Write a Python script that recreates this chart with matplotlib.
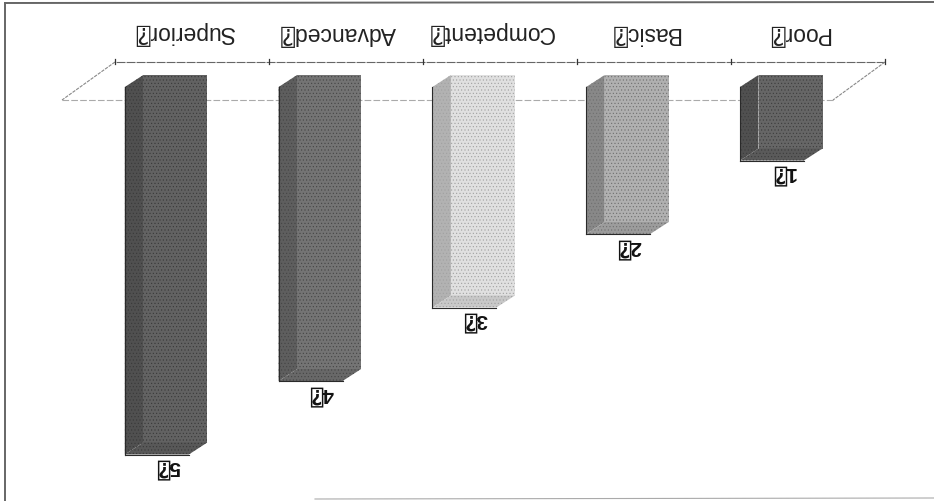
import matplotlib
matplotlib.use('Agg')
import matplotlib.pyplot as plt
from matplotlib.lines import Line2D

categories = ['Poor', 'Basic', 'Competent', 'Advanced', 'Superior']
values = [1, 2, 3, 4, 5]
face_colors = ['#666666', '#b0b0b0', '#e0e0e0', '#747474', '#626262']
side_colors = ['#505050', '#888888', '#b2b2b2', '#5e5e5e', '#505050']
end_colors = ['#5a5a5a', '#9c9c9c', '#c8c8c8', '#686868', '#585858']
dot_colors = ['#3c3c3c', '#6e6e6e', '#a0a0a0', '#444444', '#383838']

missing = '\u2370'
fonts = ['Liberation Sans', 'DejaVu Sans', 'DejaVu Sans Mono']

W, H = 934, 502
# axes fill the figure, one category is 153.8 px and one unit is 73.5 px
step_x = 153.8
step_y = 73.5
x0 = 780
y0 = 88

plt.rcParams['hatch.linewidth'] = 0.4

fig = plt.figure(figsize=(W / 100, H / 100), dpi=100)
ax = fig.add_axes([0, 0, 1, 1])
ax.set_xlim(x0 / step_x, (x0 - W) / step_x)
ax.set_ylim((H - y0) / step_y, -y0 / step_y)
ax.axis('off')

half = 32 / step_x
shift = 8 / step_x
dx = 18.5 / step_x
dy = 12 / step_y

# floor of the 3d plot
back = -25 / step_y
front = 13 / step_y
floor_x = [(x0 - 885) / step_x, (x0 - 115) / step_x]
front_x = [(x0 - 833) / step_x, (x0 - 62) / step_x]
ax.plot(floor_x, [back, back], color='#666666', lw=0.8, ls=(0, (8, 1)), zorder=1)
ax.plot(front_x, [front, front], color='#aaaaaa', lw=0.8, ls=(0, (6, 2)), zorder=1)
ax.plot([floor_x[0], front_x[0]], [back, front], color='#888888', lw=0.8, ls=(0, (3, 1)), zorder=1)
ax.plot([floor_x[1], front_x[1]], [back, front], color='#888888', lw=0.8, ls=(0, (3, 1)), zorder=1)
for i in range(6):
    t = floor_x[0] + i * (floor_x[1] - floor_x[0]) / 5
    ax.plot([t, t], [back - 3 / step_y, back + 2 / step_y], color='#333333', lw=0.9, zorder=1)

for i, (name, v) in enumerate(zip(categories, values)):
    left = i + half + shift
    right = i - half + shift
    top = 0
    # side strip, main face and end cap, dotted like the scan
    ax.fill([left, left - dx, left - dx, left], [top, top - dy, v - dy, v],
            facecolor=side_colors[i], edgecolor=dot_colors[i], hatch='.....', lw=0, zorder=2)
    ax.fill([left - dx, right - dx, right - dx, left - dx], [top - dy, top - dy, v - dy, v - dy],
            facecolor=face_colors[i], edgecolor=dot_colors[i], hatch='.....', lw=0, zorder=3)
    ax.fill([left, right, right - dx, left - dx], [v, v, v - dy, v - dy],
            facecolor=end_colors[i], edgecolor=dot_colors[i], hatch='.....', lw=0, zorder=3)
    ax.plot([left, left], [top, v], color='#2a2a2a', lw=0.8, zorder=4)
    ax.plot([left, right], [v, v], color='#2a2a2a', lw=0.8, zorder=4)

    ax.text(i - 3 / step_x, v + 12 / step_y, str(v) + missing, rotation=180,
            ha='center', va='center', fontsize=15, fontweight='bold', family=fonts,
            color='#111111', zorder=5)
    ax.text(i - 19 / step_x, -55 / step_y, name + missing, rotation=180,
            ha='center', va='center', fontsize=16.5, family=fonts, color='#222222')

# scanned page frame
frame = '#666666'
fig.add_artist(Line2D([5 / W, 5 / W], [0, 1 - 4 / H], color=frame, lw=1.4))
fig.add_artist(Line2D([5 / W, 1], [1 - 4 / H, 1 - 3 / H], color=frame, lw=1.4))
fig.add_artist(Line2D([315 / W, 1], [2 / H, 3 / H], color='#aaaaaa', lw=0.8))

fig.savefig('out.png', dpi=100)
